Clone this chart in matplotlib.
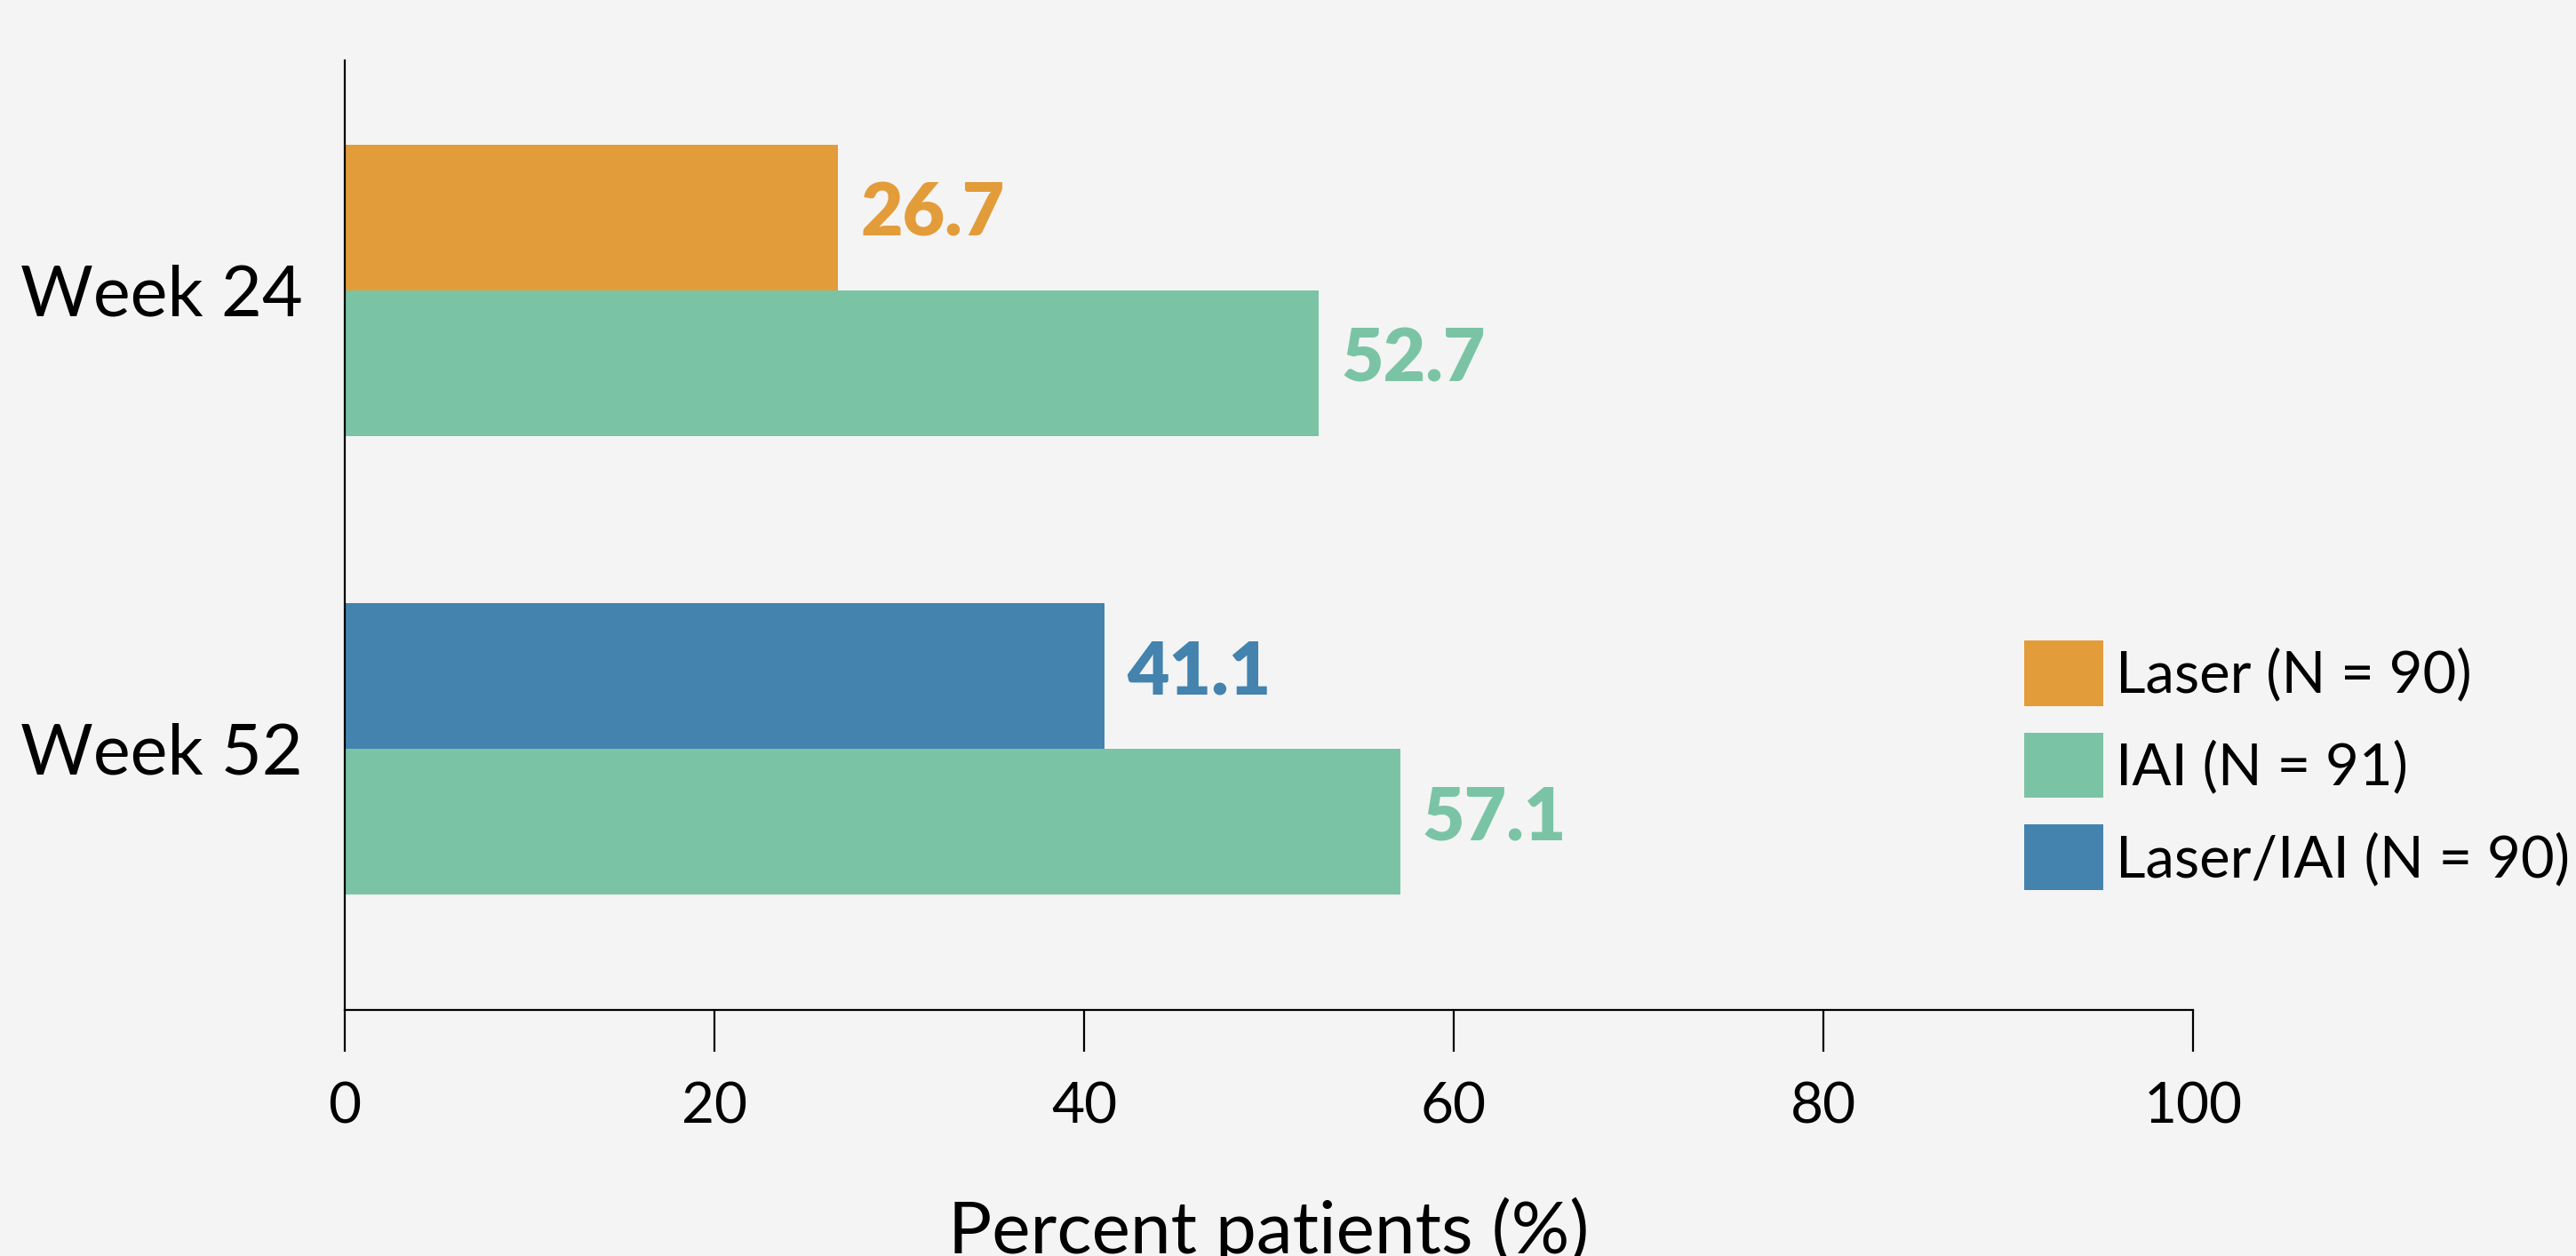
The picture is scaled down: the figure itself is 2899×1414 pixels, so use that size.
import matplotlib
matplotlib.use("Agg")
import matplotlib.pyplot as plt
from matplotlib.patches import Patch
import numpy as np

# ---- data ----
categories = ["Week 24", "Week 52"]
first_values = [26.7, 41.1]          # Laser (wk24), Laser/IAI (wk52)
iai_values = [52.7, 57.1]            # IAI
first_colors = ["#E39C3A", "#4383AE"]
iai_color = "#7AC4A5"
legend_labels = ["Laser (N = 90)", "IAI (N = 91)", "Laser/IAI (N = 90)"]
legend_colors = ["#E39C3A", "#7AC4A5", "#4383AE"]
xticks = [0, 20, 40, 60, 80, 100]
xlabel = "Percent patients (%)"

plt.rcParams['font.family'] = ['Lato', 'DejaVu Sans']
BG = "#F4F4F4"

W, H = 2899, 1414
fig = plt.figure(figsize=(W / 100, H / 100), dpi=100, facecolor=BG)
left, right, top, bottom = 388, 2468, 68, 1137
ax = fig.add_axes([left / W, 1 - bottom / H, (right - left) / W, (bottom - top) / H])
ax.set_facecolor(BG)

h = 0.318
ypos = np.arange(len(categories))
ax.barh(ypos - h / 2, first_values, height=h, color=first_colors)
ax.barh(ypos + h / 2, iai_values, height=h, color=iai_color)

for y, v, c in zip(ypos - h / 2, first_values, first_colors):
    ax.annotate(f"{v:.1f}", (v, y), xytext=(18, 2), textcoords="offset points",
                ha="left", va="center", color=c, fontsize=59, fontweight="heavy")
for y, v in zip(ypos + h / 2, iai_values):
    ax.annotate(f"{v:.1f}", (v, y), xytext=(18, 2), textcoords="offset points",
                ha="left", va="center", color=iai_color, fontsize=59, fontweight="heavy")

ax.set_xlim(0, 100)
ax.set_ylim(1.570, -0.502)
ax.set_xticks(xticks)
ax.set_xticklabels([str(t) for t in xticks], fontsize=46)
ax.set_yticks(ypos)
ax.set_yticklabels(categories, fontsize=57)
ax.tick_params(axis="x", direction="out", length=34, width=1.6, pad=24, colors="black")
ax.tick_params(axis="y", length=0, pad=34)
for s in ["top", "right"]:
    ax.spines[s].set_visible(False)
for s in ["left", "bottom"]:
    ax.spines[s].set_linewidth(1.6)
    ax.spines[s].set_color("black")

fig.text((left + right) / 2 / W, 0.002, xlabel, ha="center", va="baseline", fontsize=59)

handles = [Patch(facecolor=c, edgecolor="none") for c in legend_colors]
fig.legend(handles, legend_labels, loc="upper left", bbox_to_anchor=(2278 / W, 1 - 721 / H),
           frameon=False, fontsize=47, handlelength=1.36, handleheight=1.36,
           labelspacing=0.46, handletextpad=0.22, borderpad=0, borderaxespad=0)

fig.savefig("out.png", dpi=100, facecolor=BG)
